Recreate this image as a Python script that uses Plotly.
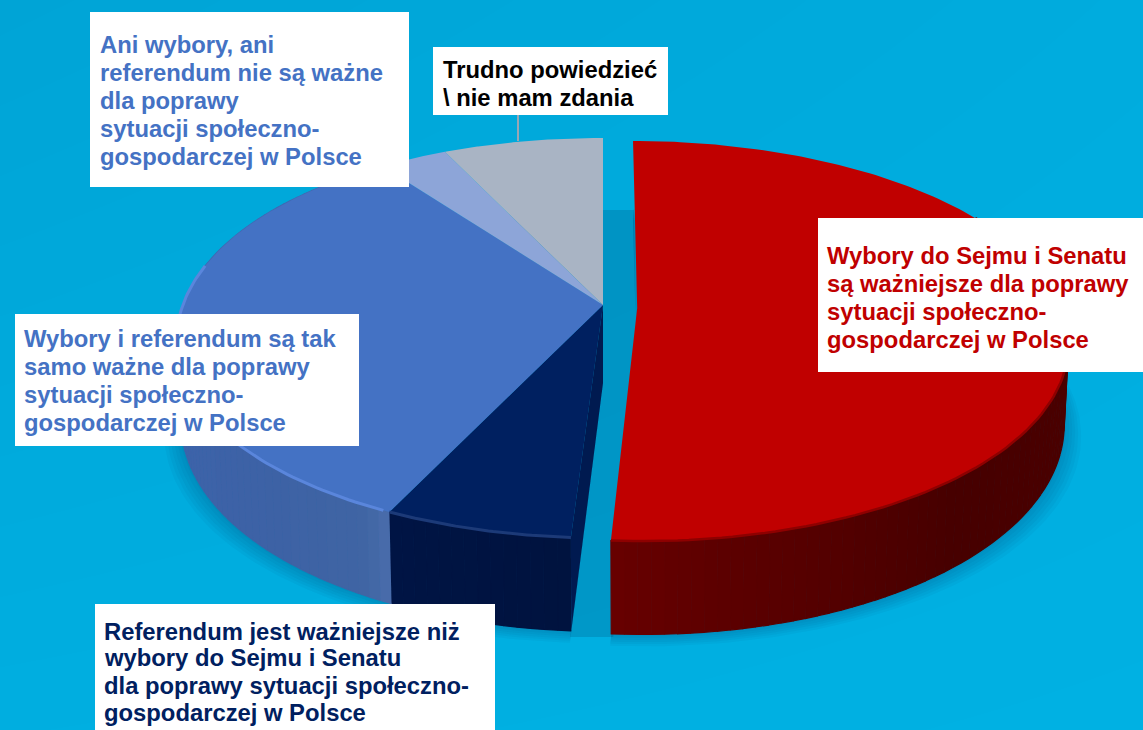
import numpy as np
import plotly.graph_objects as go

# ---- data ----
categories = ["Wybory do Sejmu i Senatu", "Referendum", "Wybory i referendum", "Ani wybory, ani referendum", "Trudno powiedzieć"]
values = [51, 6, 33, 3, 7]
top_colors = ["#C00000", "#002060", "#4472C4", "#8DA5D8", "#A9B4C4"]
labels_red = ["Wybory do Sejmu i Senatu", "są ważniejsze dla poprawy", "sytuacji społeczno-", "gospodarczej w Polsce"]
labels_navy = ["Referendum jest ważniejsze niż", "wybory do Sejmu i Senatu", "dla poprawy sytuacji społeczno-", "gospodarczej w Polsce"]
labels_blue = ["Wybory i referendum są tak", "samo ważne dla poprawy", "sytuacji społeczno-", "gospodarczej w Polsce"]
labels_ani = ["Ani wybory, ani", "referendum nie są ważne", "dla poprawy", "sytuacji społeczno-", "gospodarczej w Polsce"]
labels_trudno = ["Trudno powiedzieć", "\\ nie mam zdania"]

W, H = 1143, 730
CX, CY, A, B, K, D = 603.0, 305.0, 427.0, 194.6, 0.165, 78.0
NO_OFF = (0, 0, 0)
OFFSETS = [(4.7, 29.5, 3), NO_OFF, NO_OFF, NO_OFF, NO_OFF]


def project(theta, r=1.0, off=NO_OFF, bottom=False):
    t = np.radians(theta)
    u, v = r * np.sin(t), r * np.cos(t)
    w = 1 + K * v
    X = A * u / w
    # the side extremes of the rim are slightly narrower than the perspective ellipse
    X = X * np.where(X < 0, 1 - 0.016 * u ** 4, 1 - 0.006 * u ** 4)
    Y = -B * v / w
    if bottom:
        X = X * 0.99
        Y = Y + D / w
    return CX + off[0] + off[1] / w + X, CY + off[2] + Y


def arc(t1, t2, off=NO_OFF, bottom=False, n=120):
    return project(np.linspace(t1, t2, n), off=off, bottom=bottom)


def apex(off, bottom=False):
    return CX + off[0] + off[1], CY + off[2] + (D if bottom else 0)


edges = np.concatenate([[0], np.cumsum(values)]) * 360.0 / sum(values)

fig = go.Figure()


def poly(x, y, fill, line=None, lw=0):
    fig.add_trace(go.Scatter(x=list(x), y=list(y), mode="lines", fill="toself", fillcolor=fill,
                             line=dict(color=line or "rgba(0,0,0,0)", width=lw),
                             hoverinfo="skip", showlegend=False))


def curve(x, y, color, lw):
    fig.add_trace(go.Scatter(x=list(x), y=list(y), mode="lines", line=dict(color=color, width=lw, shape="linear"),
                             hoverinfo="skip", showlegend=False))


# background gradient
fig.add_trace(go.Heatmap(x=[0, W], y=[0, H], z=[[0, 0.6], [0.8, 1]], zsmooth="best", showscale=False,
                         hoverinfo="skip", zmin=0, zmax=1,
                         colorscale=[[0, "#00A4D6"], [1, "#00B1E3"]]))

nx, ny = project(edges[1])
nbx, nby = project(edges[1], bottom=True)
rbx, rby = project(edges[1], off=OFFSETS[0], bottom=True)

# shadow in the gap between the exploded slice and the rest
poly([CX, CX + 31, CX + 33, rbx + 2, nbx - 1, CX], [210, 210, 390, 637, 637, 384], "rgba(0,60,100,0.20)")
# soft shadow under the pie
for e in (17, 14, 11, 8, 5, 2):
    for (t1, t2, off) in ((edges[0], edges[1], OFFSETS[0]), (edges[1], edges[5], OFFSETS[1])):
        ax, ay = arc(t1, t2, off=off, bottom=True, n=160)
        cx0, cy0 = apex(off, bottom=True)
        sx = cx0 + (ax - cx0) * (1 + e / 430)
        sy = ay + e * 0.7
        poly(np.r_[cx0, sx], np.r_[cy0, sy], "rgba(0,55,100,0.045)")


# outer walls, as vertical strips with shading along the rim
def hex2rgb(h):
    return np.array([int(h[i:i + 2], 16) for i in (1, 3, 5)], float)


wall_keys = {
    0: ([60, 100, 140, 170, 184], ["#520000", "#4C0000", "#470000", "#5C0000", "#680000"]),
    1: ([183, 206], ["#00133F", "#001545"]),
    2: ([205.2, 206.5, 209, 225, 260, 290, 325], ["#4C6DAE", "#466AA8", "#4065A4", "#3D62A6", "#3E65AC", "#4069B2", "#4069B2"]),
}
for i in range(3):
    t1, t2 = edges[i], edges[i + 1]
    off = OFFSETS[i]
    if i == 0:
        t1 = max(t1, 60)
    steps = np.linspace(t1, t2, max(3, int((t2 - t1) / 1.5) + 1))
    keys, cols = wall_keys[i]
    rgb = np.array([hex2rgb(c) for c in cols])
    for a, b in zip(steps[:-1], steps[1:]):
        c = [np.interp((a + b) / 2, keys, rgb[:, j]) for j in range(3)]
        col = "rgb(%d,%d,%d)" % tuple(c)
        tx, ty = arc(a, b, off=off, n=4)
        bx, by = arc(b, a, off=off, bottom=True, n=4)
        poly(np.r_[tx, bx], np.r_[ty, by], col, col, 1.2)

# cut face of the navy slice, seen through the gap
poly([CX, CX, nbx, nx], [CY, CY + D, nby, ny], "#001A50")

# top faces
for i in range(5):
    off = OFFSETS[i]
    ax, ay = arc(edges[i], edges[i + 1], off=off, n=200)
    x0, y0 = apex(off)
    poly(np.r_[x0, ax], np.r_[y0, ay], top_colors[i])

# rim highlights
bx, by = arc(max(edges[2], 206), 282, n=80)
curve(bx, by, "#5A86DC", 3)
bx, by = arc(edges[1], edges[2], n=40)
curve(bx, by, "#1C3A78", 3)
bx, by = arc(60, edges[1], off=OFFSETS[0], n=100)
curve(bx, by, "#8E0000", 2.5)

# leader line of the "Trudno" label
fig.add_shape(type="line", x0=518, x1=518, y0=112, y1=141, line=dict(color="#9AA6B4", width=2))

# ---- label boxes ----
boxes = [
    (90, 12, 409, 187, 100, [44, 72, 100, 128, 156], labels_ani, "#4472C4"),
    (433, 47, 668, 115, 443, [69, 97], labels_trudno, "#000000"),
    (818, 218, 1143, 372, 827, [255, 283, 311, 339], labels_red, "#C00000"),
    (15, 314, 359, 446, 24, [338, 366, 394, 422], labels_blue, "#4472C4"),
    (95, 604, 495, 730, 104, [631, 657, 685, 712], labels_navy, "#002060"),
]
for x0, y0, x1, y1, tx, ys, lines, color in boxes:
    fig.add_shape(type="rect", x0=x0, x1=x1, y0=y0, y1=y1, fillcolor="#FFFFFF", line=dict(width=0), layer="above")
    for yy, line in zip(ys, lines):
        fig.add_annotation(x=tx, y=yy, text=line, showarrow=False, xanchor="left", yanchor="middle",
                           xshift=-2, font=dict(family="Liberation Sans", size=23.8, color=color, weight="bold"))

fig.update_layout(
    width=W, height=H, margin=dict(l=0, r=0, t=0, b=0),
    paper_bgcolor="#00AEE0", plot_bgcolor="#00AEE0", showlegend=False,
    xaxis=dict(range=[0, W], visible=False, fixedrange=True),
    yaxis=dict(range=[H, 0], visible=False, fixedrange=True),
)
fig.write_html("out.html", config=dict(displayModeBar=False),
               post_script="document.body.style.margin='0';document.body.style.overflow='hidden';")
